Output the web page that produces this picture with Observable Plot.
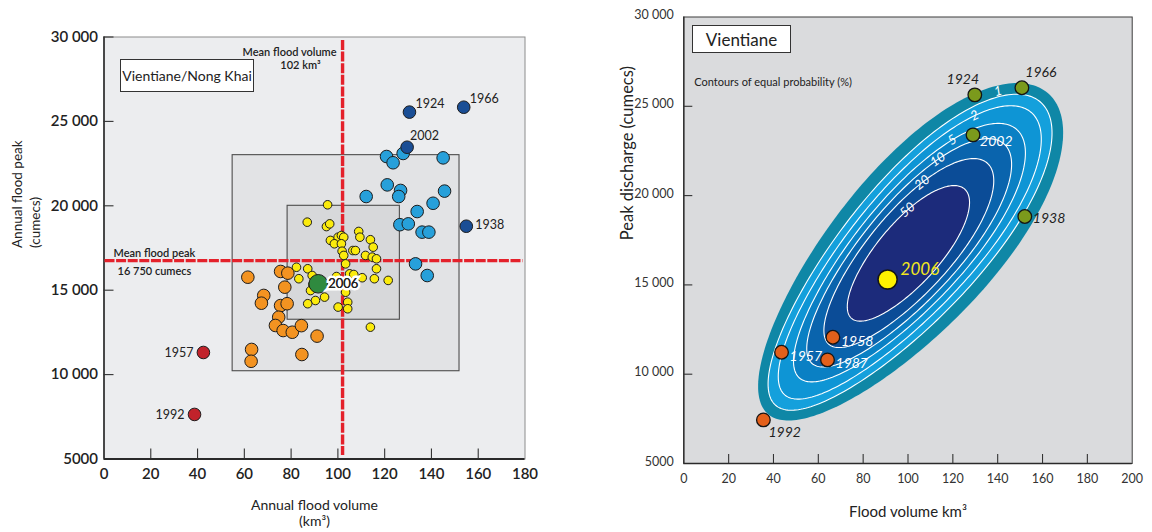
<!DOCTYPE html>
<html>
<head>
<meta charset="utf-8">
<script src="https://cdn.jsdelivr.net/npm/d3@7"></script>
<script src="https://cdn.jsdelivr.net/npm/@observablehq/plot@0.6"></script>
<style>
  body { margin: 0; background: #fff; }
  #wrap { position: relative; width: 1152px; height: 532px; overflow: hidden; font-family: Lato, "Open Sans", sans-serif; }
  #left, #right { position: absolute; top: 0; }
  #left { left: 0; }
  #right { left: 560px; }
  .tbox { position: absolute; box-sizing: border-box; background: #fff; border: 1.3px solid #333;
          display: flex; align-items: center; justify-content: center; color: #222; }
</style>
</head>
<body>
<div id="wrap">
  <div id="left"></div>
  <div id="right"></div>
  <div class="tbox" style="left:120px;top:59px;width:134px;height:33px;font-size:14px;">Vientiane/Nong Khai</div>
  <div class="tbox" style="left:692px;top:25px;width:99px;height:28px;font-size:17px;">Vientiane</div>
</div>
<script>
const FONT = "Lato, 'Open Sans', sans-serif";

// ---------- shared axis values ----------
const peakTicks = [5000, 10000, 15000, 20000, 25000, 30000];
const peakTickLabels = ["5000", "10 000", "15 000", "20 000", "25 000", "30 000"];
const leftVolumeTicks = [0, 20, 40, 60, 80, 100, 120, 140, 160, 180];
const rightVolumeTicks = [0, 20, 40, 60, 80, 100, 120, 140, 160, 180, 200];

// ---------- Vientiane / Nong Khai annual floods (left) ----------
const meanVolume = 102;      // km3
const meanPeak = 16750;      // cumecs

const outerBoxVolume = [55, 152];
const outerBoxPeak = [10200, 23000];
const innerBoxVolume = [78.5, 126.5];
const innerBoxPeak = [13250, 20000];

// very large floods (named)
const bigYears = ["1924", "1966", "2002", "1938"];
const bigVolume = [130.6, 153.8, 129.6, 154.9];
const bigPeak = [25550, 25840, 23470, 18790];

// large floods
const highVolume = [120.8, 123.6, 127.9, 145.0, 121.1, 126.8, 126.0, 112.1, 145.6, 140.7, 133.9, 126.5, 130.1, 136.0, 138.9, 133.2, 138.2];
const highPeak = [22920, 22550, 23100, 22840, 21240, 20910, 20550, 20550, 20870, 20150, 19660, 18880, 18930, 18440, 18440, 16560, 15870];

// average floods
const avgVolume = [95.6, 86.9, 95.1, 96.5, 96.8, 100.1, 101.5, 102.5, 98.5, 101.5, 101.8, 102.5, 108.9, 109.4, 106.4, 107.5, 113.9, 115.1, 111.8, 114.7, 116.5, 116.5, 103.3, 105.0, 106.8, 99.4, 110.4, 115.6, 121.5, 82.3, 87.1, 83.3, 89.0, 88.3, 90.4, 94.3, 87.1, 103.3, 104.2, 104.2, 100.1, 113.9, 89.3];
const avgPeak = [20060, 19030, 18770, 18930, 17950, 18140, 18240, 18140, 17750, 17750, 17310, 17060, 18480, 18140, 17350, 17350, 17990, 17550, 17060, 16960, 16860, 16270, 16560, 15970, 15930, 15810, 15740, 15680, 15580, 16360, 16270, 15680, 15870, 14980, 14390, 14590, 14200, 14880, 14290, 13900, 14000, 12810, 15340];

// small floods
const lowVolume = [61.5, 75.5, 78.6, 77.3, 68.3, 67.3, 75.5, 78.3, 74.7, 73.3, 76.6, 80.5, 84.4, 91.1, 63.1, 62.9, 84.6];
const lowPeak = [15770, 16110, 16010, 15180, 14690, 14230, 14090, 14200, 13400, 12910, 12610, 12510, 12900, 12280, 11490, 10790, 11190];

// very small floods (named)
const smallYears = ["1957", "1992"];
const smallVolume = [42.5, 38.7];
const smallPeak = [11310, 7640];

const year2006 = {year: "2006", volume: 91.6, peak: 15380};

// ---------- Vientiane joint probability (right) ----------
const wetYears = ["1924", "1966", "2002", "1938"];
const wetVolume = [129.8, 150.8, 129.0, 152.1];
const wetPeak = [25640, 26040, 23400, 18830];

const dryYears = ["1958", "1957", "1987", "1992"];
const dryVolume = [66.5, 43.6, 64.1, 35.5];
const dryPeak = [12070, 11230, 10800, 7440];

const current = {year: "2006", volume: 90.9, peak: 15300};

// contours of equal probability (% exceedance); the first ring is the outer edge of the 1 % band
const contourLevels = [0.5, 1, 2, 5, 10, 20, 50];
const contourCentreVolume = 100;
const contourCentrePeak = 16750;
const contourAngle = 49;                                             // degrees, of the major axis
const contourSemiMajor = [0.476, 0.450, 0.419, 0.369, 0.326, 0.269, 0.192]; // share of axis span
const contourSemiMinor = [0.178, 0.151, 0.135, 0.120, 0.106, 0.091, 0.069];
const contourSkew = [0.12, 0.12, 0.12, 0.11, 0.10, 0.08, 0.05];
const contourFill = ["#0f87a6", "#14a0dc", "#0e95d5", "#0a80c4", "#0a64ad", "#0b4c97", "#1c2b7b"];
const contourLabelParam = [null, 0.50, 0.66, 0.80, 0.90, 1.02, 1.18];

// ---------- helpers ----------
const rows = (xs, ys, names) => xs.map((x, i) => ({volume: x, peak: ys[i], year: names ? names[i] : null}));

const VSPAN = 200, PSPAN = 25000;
function ringPoint(i, t) {
  const th = contourAngle * Math.PI / 180;
  const a = contourSemiMajor[i], b = contourSemiMinor[i], k = contourSkew[i];
  const u = a * Math.cos(t);
  const w = b * (1 + k * Math.cos(t)) * Math.sin(t);
  const nx = u * Math.cos(th) - w * Math.sin(th);
  const ny = u * Math.sin(th) + w * Math.cos(th);
  return {volume: contourCentreVolume + nx * VSPAN, peak: contourCentrePeak + ny * PSPAN, nx, ny};
}
function ring(i) {
  return d3.range(240).map(j => ringPoint(i, j / 240 * 2 * Math.PI));
}
function ringLabel(i) {
  const t = contourLabelParam[i];
  let p = ringPoint(i, t);
  if (i === 1) { // the 1 % label sits inside the outer band
    const q = ringPoint(0, t);
    p = {...p, volume: (p.volume + q.volume) / 2, peak: (p.peak + q.peak) / 2};
  }
  const p1 = ringPoint(i, t - 0.01), p2 = ringPoint(i, t + 0.01);
  let dx = p2.nx - p1.nx, dy = p2.ny - p1.ny;
  if (dx < 0) { dx = -dx; dy = -dy; }
  const angle = -Math.atan2(dy, dx) * 180 / Math.PI;
  return {volume: p.volume, peak: p.peak, text: String(contourLevels[i]), angle};
}

// ---------- left chart ----------
const leftInnerH = 532 - 36.5 - 73.5;
const leftInnerW = 560 - 103.5 - 35.5;
const red = "#e4212b";
const dotStroke = {stroke: "#1d1d1d", strokeWidth: 1};

const left = Plot.plot({
  width: 560, height: 532,
  marginLeft: 103.5, marginRight: 35.5, marginTop: 36.5, marginBottom: 73.5,
  x: {domain: [0, 180], axis: null},
  y: {domain: [5000, 30000], axis: null},
  style: {fontFamily: FONT, background: "transparent", overflow: "visible"},
  marks: [
    Plot.frame({fill: "#ecedef", stroke: "#8c8c8c"}),
    Plot.rect([0], {x1: outerBoxVolume[0], x2: outerBoxVolume[1], y1: outerBoxPeak[0], y2: outerBoxPeak[1], fill: "#e2e3e5", stroke: "#4d4d4d", strokeWidth: 1.1}),
    Plot.rect([0], {x1: innerBoxVolume[0], x2: innerBoxVolume[1], y1: innerBoxPeak[0], y2: innerBoxPeak[1], fill: "#d7d8da", stroke: "#4d4d4d", strokeWidth: 1.1}),
    Plot.ruleX([0], {stroke: "#2a2a2a", strokeWidth: 1.6}),
    Plot.ruleY([5000], {stroke: "#2a2a2a", strokeWidth: 1.8}),
    Plot.tickX(leftVolumeTicks.slice(1, -1), {x: d => d, insetTop: leftInnerH - 10, stroke: "#333", strokeWidth: 1.1}),
    Plot.tickY(peakTicks.slice(1), {y: d => d, insetRight: leftInnerW - 10, stroke: "#333", strokeWidth: 1.1}),
    Plot.text(leftVolumeTicks, {x: d => d, frameAnchor: "bottom", lineAnchor: "middle", dy: 15, text: d => String(d), fontSize: 15, fontWeight: 600, fill: "#222"}),
    Plot.text(peakTicks, {y: d => d, frameAnchor: "left", dx: -6, textAnchor: "end", text: (d, i) => peakTickLabels[i], fontSize: 15, fontWeight: 600, fill: "#222"}),
    // axis titles
    Plot.text(["Annual flood peak\n(cumecs)"], {frameAnchor: "left", dx: -79, rotate: -90, text: d => d, fontSize: 13.5, fill: "#222", lineHeight: 1.35}),
    Plot.text(["Annual flood volume\n(km³)"], {frameAnchor: "bottom", lineAnchor: "middle", dy: 53.5, text: d => d, fontSize: 14, fill: "#222", lineHeight: 1.15}),
    // mean lines
    Plot.ruleY([meanPeak], {stroke: red, strokeWidth: 3.4, strokeDasharray: "10,1.6", insetLeft: 1, insetRight: 2}),
    Plot.ruleX([meanVolume], {stroke: red, strokeWidth: 3.4, strokeDasharray: "10,1.6", insetTop: 3.5, insetBottom: 3.5}),
    Plot.text([meanVolume], {x: d => d, frameAnchor: "top", lineAnchor: "middle", dy: 15.5, dx: -6, textAnchor: "end", text: () => "Mean flood volume", fontSize: 11, fontWeight: 600, fill: "#222"}),
    Plot.text([meanVolume], {x: d => d, frameAnchor: "top", lineAnchor: "middle", dy: 28.5, dx: -42, text: d => `${d} km³`, fontSize: 11, fontWeight: 600, fill: "#222"}),
    Plot.text([meanPeak], {y: d => d, frameAnchor: "left", dx: 9.5, dy: -7, textAnchor: "start", text: () => "Mean flood peak", fontSize: 11, fontWeight: 600, fill: "#222"}),
    Plot.text([meanPeak], {y: d => d, frameAnchor: "left", dx: 13.5, dy: 11, textAnchor: "start", text: d => d3.format(",")(d).replace(",", " ") + " cumecs", fontSize: 11, fontWeight: 600, fill: "#222"}),
    // floods
    Plot.dot(rows(lowVolume, lowPeak), {x: "volume", y: "peak", r: 6.3, fill: "#f39321", ...dotStroke}),
    Plot.dot(rows(highVolume, highPeak), {x: "volume", y: "peak", r: 6.3, fill: "#27a0da", ...dotStroke}),
    Plot.dot(rows(avgVolume, avgPeak), {x: "volume", y: "peak", r: 4.3, fill: "#fbeb0c", ...dotStroke}),
    Plot.dot(rows(bigVolume, bigPeak, bigYears), {x: "volume", y: "peak", r: 6.3, fill: "#1a4e95", ...dotStroke}),
    Plot.dot(rows(smallVolume, smallPeak, smallYears), {x: "volume", y: "peak", r: 6.3, fill: "#c1232b", ...dotStroke}),
    Plot.dot([year2006], {x: "volume", y: "peak", r: 9.3, fill: "#2f8a3f", ...dotStroke}),
    Plot.text(rows(bigVolume, bigPeak, bigYears).slice(0, 2), {x: "volume", y: "peak", text: "year", dx: 6, dy: -8, textAnchor: "start", fontSize: 12.5, fill: "#222"}),
    Plot.text(rows(bigVolume, bigPeak, bigYears).slice(2, 3), {x: "volume", y: "peak", text: "year", dx: 3, dy: -11, textAnchor: "start", fontSize: 12.5, fill: "#222"}),
    Plot.text(rows(bigVolume, bigPeak, bigYears).slice(3), {x: "volume", y: "peak", text: "year", dx: 9, dy: -1, textAnchor: "start", fontSize: 12.5, fill: "#222"}),
    Plot.text(rows(smallVolume, smallPeak, smallYears), {x: "volume", y: "peak", text: "year", dx: -10, dy: 1, textAnchor: "end", fontSize: 12.5, fill: "#222"}),
    Plot.text([year2006], {x: "volume", y: "peak", text: "year", dx: 10, dy: 0, textAnchor: "start", fontSize: 13, fill: "#222", stroke: "white", strokeWidth: 5, strokeLinejoin: "miter"}),
    Plot.text([year2006], {x: "volume", y: "peak", text: "year", dx: 10, dy: 0, textAnchor: "start", fontSize: 13, fill: "#222"})
  ]
});
document.getElementById("left").append(left);

// ---------- right chart ----------
const rightInnerH = 532 - 16.5 - 69;
const rightInnerW = 592 - 123.3 - 20.3;
const rings = contourLevels.map((lvl, i) => ring(i));
const ringLabels = contourLevels.map((lvl, i) => i === 0 ? null : ringLabel(i)).filter(d => d);

const right = Plot.plot({
  width: 592, height: 532,
  marginLeft: 123.3, marginRight: 20.3, marginTop: 16.5, marginBottom: 69,
  x: {domain: [0, 200], axis: null},
  y: {domain: [5000, 30000], axis: null},
  style: {fontFamily: FONT, background: "transparent", overflow: "visible"},
  marks: [
    Plot.frame({fill: "#dadbdd", stroke: "#3c3c3c"}),
    ...rings.map((pts, i) => Plot.line(pts, {x: "volume", y: "peak", curve: "linear-closed", fill: contourFill[i], stroke: i === 0 ? "none" : "white", strokeWidth: i === 0 ? 0 : 1.1})),
    Plot.text(ringLabels, {x: "volume", y: "peak", text: "text", rotate: "angle", fontSize: 13, fontStyle: "italic", fill: "white"}),
    Plot.ruleX([0], {stroke: "#2a2a2a", strokeWidth: 1.3}),
    Plot.ruleY([5000], {stroke: "#2a2a2a", strokeWidth: 1.4}),
    Plot.tickX(rightVolumeTicks.slice(1, -1), {x: d => d, insetTop: rightInnerH - 9, stroke: "#333", strokeWidth: 1.1}),
    Plot.tickY(peakTicks.slice(1, -1), {y: d => d, insetRight: rightInnerW - 9, stroke: "#333", strokeWidth: 1.1}),
    Plot.text(rightVolumeTicks, {x: d => d, frameAnchor: "bottom", lineAnchor: "middle", dy: 15, text: d => String(d), fontSize: 12.5, fill: "#333"}),
    Plot.text(peakTicks, {y: d => d, frameAnchor: "left", dx: -10, dy: -2, textAnchor: "end", text: (d, i) => peakTickLabels[i], fontSize: 12.5, fill: "#333"}),
    Plot.text(["Peak discharge (cumecs)"], {frameAnchor: "left", dx: -56, rotate: -90, text: d => d, fontSize: 16.5, fill: "#222"}),
    Plot.text(["Flood volume km³"], {frameAnchor: "bottom", lineAnchor: "middle", dy: 49, text: d => d, fontSize: 15, fill: "#222"}),
    Plot.text(["Contours of equal probability (%)"], {frameAnchor: "top-left", lineAnchor: "middle", dx: 10.5, dy: 65.5, textAnchor: "start", text: d => d, fontSize: 11, fill: "#222"}),
    // years
    Plot.dot(rows(wetVolume, wetPeak, wetYears), {x: "volume", y: "peak", r: 6.8, fill: "#7b9a1c", stroke: "#151515", strokeWidth: 1.3}),
    Plot.dot(rows(dryVolume, dryPeak, dryYears), {x: "volume", y: "peak", r: 6.8, fill: "#e3601b", stroke: "#151515", strokeWidth: 1.3}),
    Plot.dot([current], {x: "volume", y: "peak", r: 9.6, fill: "#fff200", stroke: "#151515", strokeWidth: 1.6}),
    Plot.text(rows(wetVolume, wetPeak, wetYears).slice(0, 1), {x: "volume", y: "peak", text: "year", dx: -12, dy: -15, fontSize: 14, fontStyle: "italic", fill: "#1e1e1e"}),
    Plot.text(rows(wetVolume, wetPeak, wetYears).slice(1, 2), {x: "volume", y: "peak", text: "year", dx: 19, dy: -15, fontSize: 14, fontStyle: "italic", fill: "#1e1e1e"}),
    Plot.text(rows(wetVolume, wetPeak, wetYears).slice(2, 3), {x: "volume", y: "peak", text: "year", dx: 7, dy: 7, textAnchor: "start", fontSize: 14, fontStyle: "italic", fill: "white"}),
    Plot.text(rows(wetVolume, wetPeak, wetYears).slice(3), {x: "volume", y: "peak", text: "year", dx: 8, dy: 2, textAnchor: "start", fontSize: 14, fontStyle: "italic", fill: "#1e1e1e"}),
    Plot.text(rows(dryVolume, dryPeak, dryYears).slice(0, 3), {x: "volume", y: "peak", text: "year", dx: 8, dy: 4, textAnchor: "start", fontSize: 14, fontStyle: "italic", fill: "white"}),
    Plot.text(rows(dryVolume, dryPeak, dryYears).slice(3), {x: "volume", y: "peak", text: "year", dx: 5, dy: 13, textAnchor: "start", fontSize: 14, fontStyle: "italic", fill: "#1e1e1e"}),
    Plot.text([current], {x: "volume", y: "peak", text: "year", dx: 13, dy: -10, textAnchor: "start", fontSize: 17, fontStyle: "italic", fill: "#f4e81c"})
  ]
});
document.getElementById("right").append(right);
</script>
</body>
</html>
